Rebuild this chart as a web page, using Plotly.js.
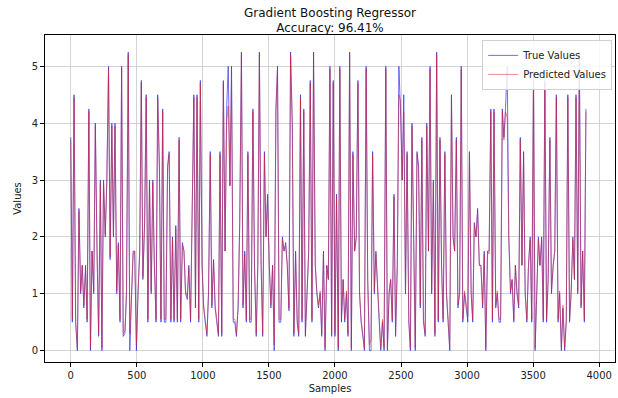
<!DOCTYPE html>
<html>
<head>
<meta charset="utf-8">
<script src="https://cdn.plot.ly/plotly-3.0.1.min.js"></script>
<style>html,body{margin:0;padding:0;background:#fff;}#chart{width:618px;height:398px;}</style>
</head>
<body>
<div id="chart"></div>
<script>
// Test-set values (every plotted sample)
const trueValues = [
  3.75,0.5,4.5,0.5,0.0,2.5,1.0,1.5,0.75,1.5,0.5,4.25,0.0,1.75,1.0,4.0,1.75,0.25,3.0,0.0,3.0,2.0,3.0,
  5.0,1.6,4.0,2.0,4.0,1.0,1.9,0.5,5.0,0.25,0.3,1.0,5.25,0.0,1.0,1.75,1.75,0.0,1.0,1.75,4.75,1.25,2.25,4.5,0.5,3.0,1.0,
  3.0,1.5,0.5,4.5,3.25,0.5,4.25,0.5,0.5,3.25,3.5,0.5,2.0,0.5,2.2,0.5,3.75,0.5,1.9,1.75,1.0,0.9,1.5,0.5,2.25,4.5,0.75,
  4.5,0.5,4.75,1.5,0.75,0.5,0.25,1.0,3.5,0.75,1.6,0.75,0.5,0.25,3.5,0.25,4.75,1.75,4.25,5.0,2.9,5.0,0.5,0.5,0.25,0.75,2.25,
  5.25,0.75,1.75,0.5,3.5,0.5,0.5,4.25,1.5,0.25,1.5,5.25,1.5,0.25,3.5,2.0,2.75,1.5,0.75,1.5,0.0,4.25,5.0,0.5,0.5,2.0,1.75,
  1.9,1.5,0.7,5.25,4.0,0.25,1.75,0.5,0.25,4.5,0.5,4.25,0.25,1.0,1.75,4.75,0.5,5.25,1.5,1.0,0.75,1.0,0.25,1.75,0.0,1.5,1.25,5.0,
  0.25,4.75,0.25,2.75,0.0,5.0,0.5,1.25,0.5,1.0,0.25,5.25,0.0,3.5,1.75,2.0,4.75,1.0,0.5,0.25,0.0,5.0,1.25,0.0,0.0,3.5,
  1.0,1.75,1.0,0.5,0.0,0.5,0.0,5.0,0.0,1.0,1.25,0.5,2.75,0.25,1.5,5.0,4.25,3.0,4.5,1.0,3.5,0.5,0.0,4.0,2.0,0.0,3.5,
  3.25,0.75,3.75,0.5,0.25,4.0,1.75,5.0,1.0,3.0,0.25,5.25,0.5,3.75,1.5,0.5,3.5,1.0,0.5,0.0,4.5,2.0,1.75,3.75,0.75,1.0,5.0,0.5,
  1.0,0.75,0.5,3.5,1.0,0.5,2.25,2.0,2.5,1.5,1.5,0.75,1.75,0.0,1.75,1.75,4.25,0.5,4.25,0.75,1.0,0.5,0.5,4.25,3.75,4.25,5.0,2.0,
  1.0,1.25,0.5,1.5,1.0,0.75,3.75,1.5,3.5,1.0,0.5,1.5,2.0,0.5,4.9,0.0,1.0,2.0,1.5,2.0,0.5,4.75,0.5,1.25,3.75,1.0,1.5,1.75,4.5,0.5,
  1.0,0.0,0.75,0.0,0.5,4.5,0.5,1.0,2.0,1.25,4.5,1.0,5.25,0.75,1.75,0.5,4.25
];
const predictedValues = [
  3.7,0.55,4.45,0.5,0.05,2.45,1.05,1.5,0.8,1.45,0.55,4.2,0.05,1.75,1.05,3.95,1.7,0.3,2.95,0.05,3.0,2.05,2.95,
  4.95,1.65,3.95,2.05,3.95,1.05,1.85,0.55,4.95,0.3,0.35,1.05,5.2,0.3,1.05,1.7,1.75,0.1,1.05,1.7,4.7,1.3,2.2,4.45,0.55,2.95,1.05,
  2.95,1.5,0.55,4.45,3.2,0.55,4.2,0.55,0.55,3.2,3.45,0.55,1.95,0.55,2.15,0.55,3.7,0.55,1.85,1.75,1.05,0.95,1.45,0.55,2.2,4.45,0.8,
  4.45,0.55,4.7,1.5,0.8,0.55,0.3,1.05,3.45,0.8,1.6,0.8,0.55,0.3,3.45,0.3,4.7,1.75,4.0,4.3,2.9,4.75,0.55,0.55,0.3,0.8,2.2,
  5.2,0.8,1.7,0.55,3.45,0.55,0.55,4.2,1.5,0.3,1.5,5.2,1.5,0.3,3.45,2.0,2.7,1.5,0.8,1.5,0.1,4.2,4.95,0.55,0.55,1.95,1.75,
  1.85,1.5,0.75,5.2,3.95,0.3,1.7,0.55,0.3,4.45,0.55,4.2,0.3,1.05,1.7,4.7,0.55,5.2,1.5,1.05,0.8,1.05,0.3,1.7,0.05,1.5,1.25,4.95,
  0.3,4.7,0.3,2.7,0.05,4.95,0.55,1.25,0.55,1.05,0.3,5.2,0.05,3.45,1.75,1.95,4.7,1.05,0.55,0.3,0.05,4.95,1.25,0.1,0.2,3.45,
  1.05,1.7,1.05,0.55,0.05,0.55,0.05,4.95,0.05,1.05,1.25,0.55,2.7,0.3,1.5,4.5,4.4,3.0,4.2,1.05,3.45,0.55,0.05,3.95,2.0,0.05,3.45,
  3.2,0.8,3.7,0.55,0.3,3.95,1.75,4.95,1.05,2.95,0.3,5.2,0.55,3.7,1.5,0.55,3.45,1.05,0.55,0.05,4.45,2.0,1.75,3.7,0.8,1.05,4.95,0.55,
  1.05,0.8,0.6,3.45,1.05,0.55,2.2,2.0,2.45,1.5,1.5,0.8,1.7,0.05,1.75,1.7,4.2,0.55,4.2,0.8,1.05,0.55,0.55,4.2,3.7,4.2,4.1,2.0,
  1.05,1.25,0.55,1.5,1.05,0.8,3.7,1.5,3.45,1.05,0.55,1.5,1.95,0.55,4.85,0.05,1.05,1.95,1.5,1.95,0.55,4.7,0.55,1.25,3.7,1.05,1.5,1.75,4.45,0.55,
  1.05,0.05,0.8,0.05,0.55,4.45,0.55,1.05,1.95,1.25,4.45,1.05,5.2,0.8,1.75,0.55,4.2
];
const lastSample = 3900;
const titleText = "Gradient Boosting Regressor<br>Accuracy: 96.41%";
const xTicks = [0,500,1000,1500,2000,2500,3000,3500,4000];
const yTicks = [0,1,2,3,4,5];

// sample index of each plotted point
const samples = trueValues.map((_, i) => Math.round(i * lastSample / (trueValues.length - 1)));

const font = "DejaVu Sans, sans-serif";
const traces = [
  {x: samples, y: trueValues, type: "scatter", mode: "lines", name: "True Values",
   line: {color: "rgba(40,40,230,0.75)", width: 0.9}},
  {x: samples, y: predictedValues, type: "scatter", mode: "lines", name: "Predicted Values",
   line: {color: "rgba(230,30,30,0.58)", width: 0.9}}
];
const axisCommon = {
  showline: true, linecolor: "#000", linewidth: 1, mirror: true,
  ticks: "outside", ticklen: 4, tickcolor: "#000", tickwidth: 1,
  showgrid: true, gridcolor: "#c8c8c8", gridwidth: 0.8, zeroline: false,
  tickfont: {family: font, size: 10, color: "#222"}
};
const layout = {
  width: 618, height: 398,
  margin: {l: 45, r: 3, t: 35, b: 36},
  paper_bgcolor: "#fff", plot_bgcolor: "#fff",
  font: {family: font, color: "#222"},
  title: {text: titleText, font: {family: font, size: 12, color: "#111"},
          x: 0.5, xref: "paper", xanchor: "center", y: 0.958, yref: "container", yanchor: "top"},
  xaxis: Object.assign({}, axisCommon, {range: [-195, 4120], tickvals: xTicks,
    title: {text: "Samples", font: {family: font, size: 10, color: "#222"}, standoff: 4}}),
  yaxis: Object.assign({}, axisCommon, {range: [-0.2, 5.55], tickvals: yTicks,
    title: {text: "Values", font: {family: font, size: 10, color: "#222"}, standoff: 8}}),
  showlegend: true,
  legend: {x: 0.995, xanchor: "right", y: 0.985, yanchor: "top",
           bgcolor: "rgba(255,255,255,0.85)", bordercolor: "#d0d0d0", borderwidth: 1,
           font: {family: font, size: 10, color: "#222"}, itemwidth: 30, tracegroupgap: 0}
};
Plotly.newPlot("chart", traces, layout, {displayModeBar: false, staticPlot: true});
</script>
</body>
</html>
